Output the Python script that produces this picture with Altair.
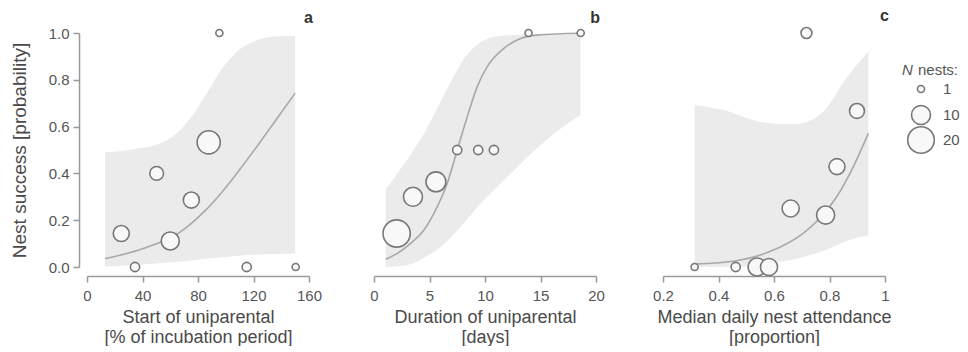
import altair as alt
import pandas as pd

# ---------- Panel a: start of uniparental incubation ----------
a_x = [24.7, 34.6, 50.2, 60.0, 75.2, 87.7, 95.4, 115.1, 150.4]
a_y = [0.143, 0.0, 0.4, 0.111, 0.286, 0.533, 1.0, 0.0, 0.0]
a_n = [7, 2, 5, 9, 7, 15, 1, 2, 1]
a_band_x = [13, 25.4, 37.5, 49.5, 61.5, 73.5, 85.5, 97.5, 109.5, 121.6, 133.6, 150]
a_band_lo = [0.002, 0.005, 0.01, 0.015, 0.02, 0.027, 0.035, 0.042, 0.048, 0.053, 0.056, 0.058]
a_band_hi = [0.49, 0.496, 0.507, 0.521, 0.557, 0.628, 0.735, 0.849, 0.927, 0.967, 0.984, 0.988]
a_fit_x = [13, 25, 37.5, 49.5, 61.5, 73.5, 85.5, 97.5, 109.5, 121.6, 133.6, 150]
a_fit_y = [0.035, 0.052, 0.073, 0.098, 0.128, 0.178, 0.243, 0.322, 0.412, 0.508, 0.607, 0.743]

# ---------- Panel b: duration of uniparental incubation ----------
b_x = [2.04, 3.51, 5.58, 7.5, 9.39, 10.8, 13.92, 18.62]
b_y = [0.143, 0.3, 0.364, 0.5, 0.5, 0.5, 1.0, 1.0]
b_n = [21, 10, 11, 2, 2, 2, 1, 1]
b_band_x = [1.05, 2.1, 3.3, 4.5, 5.7, 6.9, 8.1, 9.3, 10.5, 12.0, 15.0, 16.5, 18.6]
b_band_lo = [0.0, 0.003, 0.012, 0.04, 0.075, 0.125, 0.187, 0.255, 0.315, 0.385, 0.52, 0.58, 0.65]
b_band_hi = [0.33, 0.40, 0.48, 0.57, 0.68, 0.79, 0.89, 0.95, 0.98, 0.99, 0.995, 0.995, 0.995]
b_fit_x = [1.05, 2.1, 3.3, 4.5, 5.7, 6.6, 7.5, 8.4, 9.3, 10.2, 11.7, 13.2, 14.7, 18.6]
b_fit_y = [0.033, 0.058, 0.101, 0.158, 0.258, 0.358, 0.5, 0.642, 0.771, 0.856, 0.934, 0.977, 0.991, 0.999]

# ---------- Panel c: median daily nest attendance ----------
c_x = [0.314, 0.462, 0.539, 0.582, 0.66, 0.717, 0.786, 0.827, 0.899]
c_y = [0.0, 0.0, 0.0, 0.0, 0.25, 1.0, 0.222, 0.429, 0.667]
c_n = [1, 2, 9, 8, 8, 3, 9, 7, 6]
c_band_x = [0.314, 0.368, 0.429, 0.489, 0.549, 0.609, 0.669, 0.729, 0.79, 0.85, 0.91, 0.94]
c_band_lo = [0.0, 0.0, 0.0, 0.002, 0.008, 0.018, 0.032, 0.05, 0.075, 0.105, 0.128, 0.135]
c_band_hi = [0.692, 0.682, 0.668, 0.642, 0.621, 0.612, 0.61, 0.625, 0.68, 0.79, 0.88, 0.92]
c_fit_x = [0.314, 0.465, 0.585, 0.705, 0.765, 0.826, 0.886, 0.94]
c_fit_y = [0.013, 0.027, 0.066, 0.144, 0.208, 0.30, 0.429, 0.571]

y_ticks = [0.0, 0.2, 0.4, 0.6, 0.8, 1.0]
legend_values = [1, 10, 20]
legend_title_italic = ["N"]
legend_title_rest = ["nests:"]

FONT = "Liberation Sans"
W, H = 222, 234
BAND = "#ebebeb"
FIT = "#a8a8a8"
PT_STROKE = "#777777"
PT_FILL = "#f8f8f8"
AX = "#9a9a9a"
TXT = "#555555"

size_scale = alt.Scale(domain=[1, 20], range=[50, 707], zero=False)

# legend layout (pixels, relative to panel c's plot area)
LEG_SYM_X = W + 36
LEG_LAB_X = W + 58
LEG_TITLE_Y = 37
LEG_ROW_EXPR = "datum.n == 1 ? 56 : (datum.n == 10 ? 82 : 107)"


def circle_mark():
    return dict(shape="circle", filled=True, fill=PT_FILL, stroke=PT_STROKE,
                strokeWidth=1.6, opacity=1, fillOpacity=1, strokeOpacity=1)


def panel(px, py, pn, bx, blo, bhi, fx, fy, domain, xaxis, letter, yaxis, extra=None):
    pts = pd.DataFrame({"x": px, "y": py, "n": pn})
    band = pd.DataFrame({"x": bx, "lo": blo, "hi": bhi})
    fit = pd.DataFrame({"x": fx, "y": fy})
    xs = alt.Scale(domain=domain, nice=False, zero=False)
    ys = alt.Scale(domain=[0, 1], nice=False, zero=False)
    area = alt.Chart(band).mark_area(color=BAND, opacity=1, interpolate="monotone").encode(
        x=alt.X("x:Q", scale=xs, axis=xaxis),
        y=alt.Y("lo:Q", scale=ys, axis=yaxis),
        y2="hi:Q",
    )
    line = alt.Chart(fit).mark_line(color=FIT, strokeWidth=1.6, interpolate="monotone").encode(
        x=alt.X("x:Q", scale=xs),
        y=alt.Y("y:Q", scale=ys),
    )
    circ = alt.Chart(pts).mark_point(**circle_mark()).encode(
        x=alt.X("x:Q", scale=xs),
        y=alt.Y("y:Q", scale=ys),
        size=alt.Size("n:Q", scale=size_scale, legend=None),
    )
    layers = [area, line, circ] + (extra or [])
    return alt.layer(*layers).properties(
        width=W, height=H,
        title=alt.TitleParams(letter, anchor="end", frame="group", fontSize=16,
                              fontWeight="bold", color="#333333", font=FONT,
                              offset=0, dx=4),
    )


def xaxis(title, values, label_expr=None):
    kw = dict(values=values, title=title, offset=9, grid=False, tickSize=6,
              labelFontSize=15, titleFontSize=18, titleLineHeight=20,
              labelPadding=6, titlePadding=5, labelFlush=False)
    if label_expr:
        kw["labelExpr"] = label_expr
    return alt.Axis(**kw)


ya = alt.Axis(values=y_ticks, format=".1f", title="Nest success [probability]",
              offset=8, grid=False, tickSize=6, labelFontSize=15, titleFontSize=19,
              labelPadding=4, titlePadding=19)

# ---- size legend for N nests, drawn beside panel c ----
leg_df = pd.DataFrame({"n": legend_values})
leg_sym = alt.Chart(leg_df).transform_calculate(ly=LEG_ROW_EXPR).mark_point(
    **circle_mark()
).encode(
    x=alt.value(LEG_SYM_X),
    y=alt.Y("ly:Q", scale=None, axis=None),
    size=alt.Size("n:Q", scale=size_scale, legend=None),
)
leg_lab = alt.Chart(leg_df).transform_calculate(ly=LEG_ROW_EXPR).mark_text(
    font=FONT, fontSize=15, color=TXT, align="left", baseline="middle"
).encode(
    x=alt.value(LEG_LAB_X),
    y=alt.Y("ly:Q", scale=None, axis=None),
    text=alt.Text("n:Q", format="d"),
)
leg_n = alt.Chart(pd.DataFrame({"t": legend_title_italic})).mark_text(
    font=FONT, fontSize=15, fontStyle="italic", color=TXT, align="left", baseline="middle"
).encode(x=alt.value(W + 17), y=alt.value(LEG_TITLE_Y), text="t:N")
leg_rest = alt.Chart(pd.DataFrame({"t": legend_title_rest})).mark_text(
    font=FONT, fontSize=15, color=TXT, align="left", baseline="middle"
).encode(x=alt.value(W + 33), y=alt.value(LEG_TITLE_Y), text="t:N")

pa = panel(a_x, a_y, a_n, a_band_x, a_band_lo, a_band_hi, a_fit_x, a_fit_y,
           [0, 160],
           xaxis(["Start of uniparental", "[% of incubation period]"],
                 [0, 20, 40, 60, 80, 100, 120, 140, 160],
                 "datum.value % 40 == 0 ? datum.label : ''"),
           "a", ya)
pb = panel(b_x, b_y, b_n, b_band_x, b_band_lo, b_band_hi, b_fit_x, b_fit_y,
           [0, 20],
           xaxis(["Duration of uniparental", "[days]"], [0, 5, 10, 15, 20]),
           "b", None)
pc = panel(c_x, c_y, c_n, c_band_x, c_band_lo, c_band_hi, c_fit_x, c_fit_y,
           [0.2, 1.0],
           xaxis(["Median daily nest attendance", "[proportion]"],
                 [0.2, 0.4, 0.6, 0.8, 1.0],
                 "datum.value == 1 ? '1' : format(datum.value, '.1f')"),
           "c", None,
           extra=[leg_sym, leg_lab, leg_n, leg_rest])

chart = alt.hconcat(pa, pb, pc, spacing=47, bounds="full").resolve_scale(
    size="independent"
).properties(
    padding={"left": 2, "right": 0, "top": 0, "bottom": 0}
).configure_view(stroke=None).configure_axis(
    domainColor=AX, tickColor=AX, domainWidth=1.5, tickWidth=1.5,
    labelColor=TXT, titleColor="#4a4a4a", labelFont=FONT, titleFont=FONT,
    titleFontWeight="normal",
)

chart.save("out.html", embed_options={"renderer": "svg", "actions": False})
